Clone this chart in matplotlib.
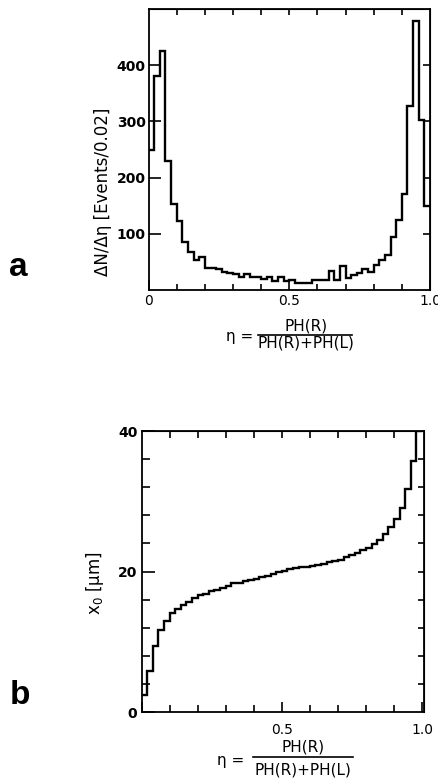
import numpy as np
import matplotlib
matplotlib.use('Agg')
import matplotlib.pyplot as plt
from matplotlib.lines import Line2D
from matplotlib.ticker import MultipleLocator

# eta histogram, bins of 0.02 from 0 to 1
BIN_WIDTH = 0.02
eta_edges = np.arange(51) * BIN_WIDTH

# panel a: dN/d(eta) [events / 0.02]
counts = [250, 380, 425, 230, 153, 122, 85, 67, 53, 59,
          40, 40, 37, 32, 31, 29, 24, 29, 23, 23,
          19, 24, 16, 23, 16, 18, 13, 13, 13, 18,
          18, 18, 34, 18, 43, 22, 26, 31, 37, 32,
          44, 53, 63, 94, 125, 171, 328, 478, 302, 149]

# panel b: x0 [um] as a function of eta
x0_um = [2.4, 5.8, 9.4, 11.7, 12.9, 14.1, 14.7, 15.3, 15.7, 16.2,
         16.6, 16.8, 17.2, 17.4, 17.7, 18.0, 18.3, 18.4, 18.6, 18.8,
         19.0, 19.2, 19.4, 19.6, 19.9, 20.1, 20.3, 20.5, 20.6, 20.7,
         20.8, 20.9, 21.1, 21.3, 21.5, 21.7, 22.0, 22.3, 22.6, 23.0,
         23.4, 23.9, 24.5, 25.3, 26.3, 27.5, 29.0, 31.8, 35.8, 40.0]

W, H = 438, 783
plt.rcParams['font.family'] = ['DejaVu Sans']
fig = plt.figure(figsize=(W / 100, H / 100), dpi=100)


def px_box(left, top, width, height):
    return [left / W, 1 - (top + height) / H, width / W, height / H]


def fig_xy(x, y):
    return x / W, 1 - y / H


def style_axes(ax):
    for sp in ax.spines.values():
        sp.set_linewidth(1.3)
    ax.tick_params(which='both', direction='in', width=1.2, labelsize=10)


def eta_label(cx_eta, cx_frac, y_num, y_bar, y_den, x0_bar, x1_bar):
    fig.text(*fig_xy(cx_eta, (y_num + y_den) / 2 + 2), 'η =', fontsize=11,
             ha='center', va='center')
    fig.text(*fig_xy(cx_frac, y_num), 'PH(R)', fontsize=11, ha='center', va='center')
    fig.text(*fig_xy(cx_frac, y_den), 'PH(R)+PH(L)', fontsize=11, ha='center', va='center')
    fig.add_artist(Line2D([x0_bar / W, x1_bar / W], [1 - y_bar / H, 1 - y_bar / H],
                          color='black', lw=1.2, transform=fig.transFigure))


# ---- panel a ----
ax_a = fig.add_axes(px_box(148.5, 9, 281.5, 281))
ax_a.stairs(counts, eta_edges, baseline=None, color='black', lw=1.7)
ax_a.set_xlim(0, 1.0)
ax_a.set_ylim(0, 500)
style_axes(ax_a)
ax_a.set_xticks([0, 0.5, 1.0])
ax_a.set_xticklabels(['0', '0.5', '1.0'])
ax_a.xaxis.set_minor_locator(MultipleLocator(0.1))
ax_a.set_yticks([100, 200, 300, 400])
ax_a.tick_params(axis='x', which='major', length=7, pad=3)
ax_a.tick_params(axis='x', which='minor', length=4)
ax_a.tick_params(axis='y', which='major', length=8.5, pad=2)
for tl in ax_a.get_yticklabels():
    tl.set_fontweight('bold')

top_a = ax_a.secondary_xaxis('top')
top_a.set_xticks(np.arange(1, 10) * 0.1)
top_a.tick_params(direction='in', length=4, width=1.2, labeltop=False)
right_a = ax_a.secondary_yaxis('right')
right_a.set_yticks([100, 200, 300, 400])
right_a.tick_params(direction='in', length=5, width=1.2, labelright=False)

fig.text(*fig_xy(103, 192), 'ΔN/Δη [Events/0.02]', fontsize=12,
         rotation=90, ha='center', va='center')
eta_label(240, 306, 326, 334.5, 343, 258, 352)
fig.text(*fig_xy(18, 268), 'a', fontsize=24, fontweight='bold',
         family=['Liberation Sans', 'DejaVu Sans'], ha='center', va='center')

# ---- panel b ----
ax_b = fig.add_axes(px_box(141.5, 431, 282, 281))
ax_b.stairs(x0_um, eta_edges, baseline=None, color='black', lw=1.7)
ax_b.set_xlim(0, 1.005)
ax_b.set_ylim(0, 40)
style_axes(ax_b)
ax_b.set_xticks([0, 0.5, 1.0])
ax_b.set_xticklabels(['', '0.5', '1.0'])
ax_b.xaxis.set_minor_locator(MultipleLocator(0.1))
ax_b.set_yticks([0, 20, 40])
ax_b.yaxis.set_minor_locator(MultipleLocator(4))
ax_b.tick_params(axis='x', which='major', length=7, pad=8)
ax_b.tick_params(axis='x', which='minor', length=5)
ax_b.tick_params(axis='y', which='major', length=9, pad=3)
ax_b.tick_params(axis='y', which='minor', length=6)
for tl in ax_b.get_yticklabels():
    tl.set_fontweight('bold')

top_b = ax_b.secondary_xaxis('top')
top_b.set_xticks(np.arange(1, 10) * 0.1)
top_b.tick_params(direction='in', length=5, width=1.2, labeltop=False)
right_b = ax_b.secondary_yaxis('right')
right_b.set_yticks(np.arange(1, 10) * 4)
right_b.tick_params(direction='in', length=4.5, width=1.2, labelright=False)

fig.text(*fig_xy(95, 583), 'x$_0$ [μm]', fontsize=12,
         rotation=90, ha='center', va='center')
eta_label(231, 303, 747, 757, 770, 253, 353)
fig.text(*fig_xy(20, 695), 'b', fontsize=24, fontweight='bold',
         family=['Liberation Sans', 'DejaVu Sans'], ha='center', va='center')

fig.savefig('out.png', dpi=100)
